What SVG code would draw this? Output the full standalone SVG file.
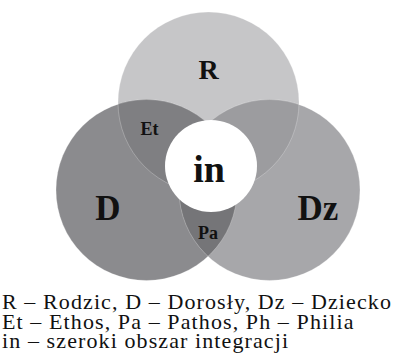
<svg xmlns="http://www.w3.org/2000/svg" width="395" height="360" viewBox="0 0 395 360">
<style>
.lbl{font-family:"Liberation Serif","DejaVu Serif",serif;font-weight:bold;fill:#111;text-anchor:middle}
.leg{font-family:"Liberation Serif","DejaVu Serif",serif;font-size:22px;letter-spacing:1.1px;fill:#111}
.edge{fill:none;stroke:#ffffff;stroke-opacity:0.35;stroke-width:0.7}
</style>
<defs>
<clipPath id="cR"><circle cx="208.5" cy="102.5" r="90.5"/></clipPath>
<clipPath id="cD"><circle cx="146.5" cy="190" r="90.5"/></clipPath>
</defs>
<rect width="395" height="360" fill="#ffffff"/>
<g id="R">
<circle cx="208.5" cy="102.5" r="90.5" fill="#c6c6c8"/>
</g>
<g id="D">
<circle cx="146.5" cy="190" r="90.5" fill="#8b8b8e"/>
</g>
<g id="Dz">
<circle cx="269.5" cy="190" r="90.5" fill="#a7a7aa"/>
</g>
<g id="Et">
<circle cx="146.5" cy="190" r="90.5" fill="#7f7f82" clip-path="url(#cR)"/>
</g>
<g id="RDz">
<circle cx="269.5" cy="190" r="90.5" fill="#9c9c9f" clip-path="url(#cR)"/>
</g>
<g id="Pa">
<circle cx="269.5" cy="190" r="90.5" fill="#757578" clip-path="url(#cD)"/>
</g>
<g id="edges">
<circle class="edge" cx="208.5" cy="102.5" r="90.5"/>
<circle class="edge" cx="146.5" cy="190" r="90.5"/>
<circle class="edge" cx="269.5" cy="190" r="90.5"/>
</g>
<g id="in">
<circle cx="211" cy="166" r="46" fill="#ffffff"/>
<text class="lbl" x="209" y="182" font-size="38">in</text>
</g>
<g id="labels">
<text class="lbl" x="208.5" y="79" font-size="28">R</text>
<text class="lbl" x="108" y="220" font-size="35">D</text>
<text class="lbl" x="318" y="220" font-size="35">Dz</text>
<text class="lbl" x="149.5" y="135" font-size="18">Et</text>
<text class="lbl" x="208" y="239" font-size="18">Pa</text>
</g>
<g id="legend">
<text class="leg" x="2" y="309">R – Rodzic, D – Dorosły, Dz – Dziecko</text>
<text class="leg" x="2" y="328.5">Et – Ethos, Pa – Pathos, Ph – Philia</text>
<text class="leg" x="2" y="348">in – szeroki obszar integracji</text>
</g>
</svg>
